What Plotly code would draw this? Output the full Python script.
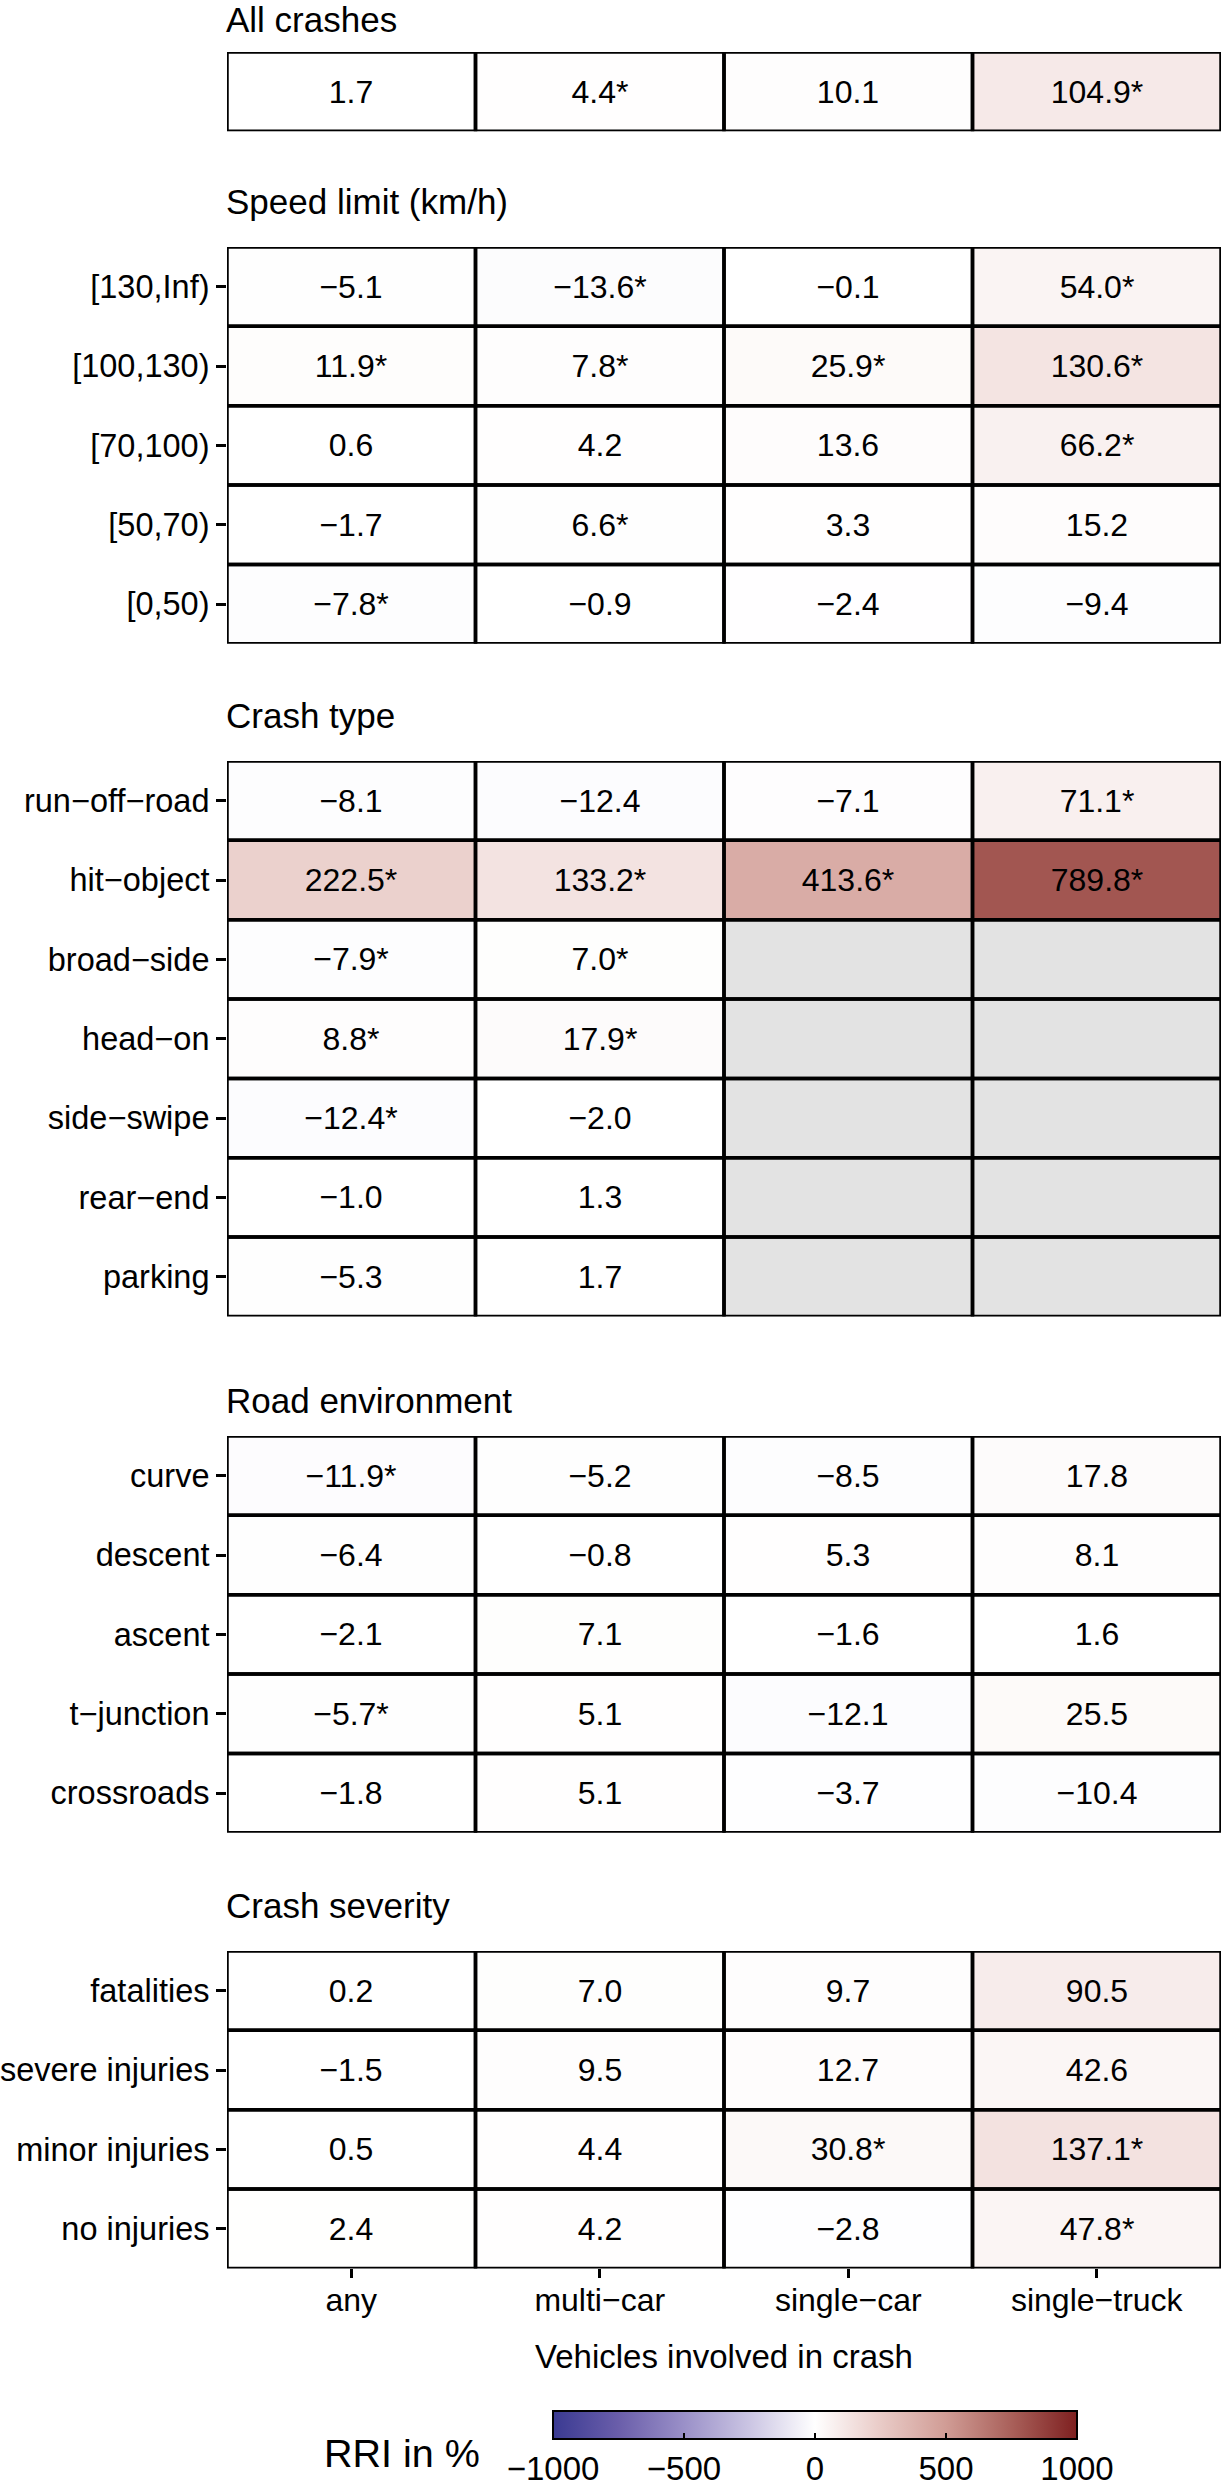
import plotly.graph_objects as go

W, H = 1232, 2484
FONT = "Liberation Sans, Arial, sans-serif"
M = "\u2212"

# columns (vehicles involved in crash)
vehicle_types = ["any", "multi" + M + "car", "single" + M + "car", "single" + M + "truck"]

# All crashes
all_rows = [""]
all_rri = [[1.7, 4.4, 10.1, 104.9]]
all_sig = [[0, 1, 0, 1]]

# Speed limit (km/h)
speed_rows = ["[130,Inf)", "[100,130)", "[70,100)", "[50,70)", "[0,50)"]
speed_rri = [[-5.1, -13.6, -0.1, 54.0],
             [11.9, 7.8, 25.9, 130.6],
             [0.6, 4.2, 13.6, 66.2],
             [-1.7, 6.6, 3.3, 15.2],
             [-7.8, -0.9, -2.4, -9.4]]
speed_sig = [[0, 1, 0, 1],
             [1, 1, 1, 1],
             [0, 0, 0, 1],
             [0, 1, 0, 0],
             [1, 0, 0, 0]]

# Crash type
type_rows = ["run" + M + "off" + M + "road", "hit" + M + "object", "broad" + M + "side",
             "head" + M + "on", "side" + M + "swipe", "rear" + M + "end", "parking"]
type_rri = [[-8.1, -12.4, -7.1, 71.1],
            [222.5, 133.2, 413.6, 789.8],
            [-7.9, 7.0, None, None],
            [8.8, 17.9, None, None],
            [-12.4, -2.0, None, None],
            [-1.0, 1.3, None, None],
            [-5.3, 1.7, None, None]]
type_sig = [[0, 0, 0, 1],
            [1, 1, 1, 1],
            [1, 1, 0, 0],
            [1, 1, 0, 0],
            [1, 0, 0, 0],
            [0, 0, 0, 0],
            [0, 0, 0, 0]]

# Road environment
road_rows = ["curve", "descent", "ascent", "t" + M + "junction", "crossroads"]
road_rri = [[-11.9, -5.2, -8.5, 17.8],
            [-6.4, -0.8, 5.3, 8.1],
            [-2.1, 7.1, -1.6, 1.6],
            [-5.7, 5.1, -12.1, 25.5],
            [-1.8, 5.1, -3.7, -10.4]]
road_sig = [[1, 0, 0, 0],
            [0, 0, 0, 0],
            [0, 0, 0, 0],
            [1, 0, 0, 0],
            [0, 0, 0, 0]]

# Crash severity
sev_rows = ["fatalities", "severe injuries", "minor injuries", "no injuries"]
sev_rri = [[0.2, 7.0, 9.7, 90.5],
           [-1.5, 9.5, 12.7, 42.6],
           [0.5, 4.4, 30.8, 137.1],
           [2.4, 4.2, -2.8, 47.8]]
sev_sig = [[0, 0, 0, 0],
           [0, 0, 0, 0],
           [0, 0, 1, 1],
           [0, 0, 0, 1]]

panel_titles = ["All crashes", "Speed limit (km/h)", "Crash type", "Road environment", "Crash severity"]
cbar_ticks = [-1000, -500, 0, 500, 1000]

colorscale = [[0.0, "#3a3a92"], [0.125, "#6a5eaa"], [0.25, "#9a90c8"], [0.375, "#cbc5e3"],
              [0.5, "#ffffff"], [0.625, "#e9cbc7"], [0.75, "#d09c95"], [0.875, "#a9605a"],
              [1.0, "#7e2020"]]

panels = [(all_rows, all_rri, all_sig), (speed_rows, speed_rri, speed_sig),
          (type_rows, type_rri, type_sig), (road_rows, road_rri, road_sig),
          (sev_rows, sev_rri, sev_sig)]

# layout in pixels
x_left, x_right = 227, 1221
panel_tops = [52, 247, 761, 1436, 1951]
row_h = 79.35
title_mid = [19, 201, 716, 1401, 1905]
cbar_top = 2411


def fmt(v, s):
    if v is None:
        return ""
    t = f"{v:.1f}".replace("-", M)
    return t + ("*" if s else "")


fig = go.Figure()
layout = {}
n_panels = len(panels)
for k, (rows, vals, sig) in enumerate(panels):
    i = k + 1
    sfx = "" if i == 1 else str(i)
    n = len(rows)
    top = panel_tops[k]
    bot = top + n * row_h
    text = [[fmt(v, s) for v, s in zip(rv, rs)] for rv, rs in zip(vals, sig)]
    last = (k == n_panels - 1)
    fig.add_trace(go.Heatmap(
        x=list(range(len(vehicle_types))), y=list(range(n)), z=vals, text=text,
        texttemplate="%{text}", textfont=dict(size=32, color="black", family=FONT),
        colorscale=colorscale, zmin=-1000, zmax=1000, xgap=0, ygap=0,
        showscale=last, hoverinfo="skip",
        xaxis="x" + sfx, yaxis="y" + sfx,
        colorbar=dict(orientation="h", x=815 / W, xanchor="center", y=1 - cbar_top / H, yanchor="top",
                      len=524 / W, lenmode="fraction", thickness=28, thicknessmode="pixels",
                      xpad=0, ypad=0, outlinewidth=2, outlinecolor="black",
                      tickvals=cbar_ticks, ticktext=[str(t).replace("-", M) for t in cbar_ticks],
                      ticks="inside", ticklen=7, tickwidth=2, tickcolor="black",
                      tickfont=dict(size=33, color="black", family=FONT)),
    ))
    layout["xaxis" + sfx] = dict(
        domain=[x_left / W, x_right / W], anchor="y" + sfx, range=[-0.5, 3.5],
        showgrid=False, zeroline=False, showline=False,
        tickvals=list(range(len(vehicle_types))), ticktext=vehicle_types,
        showticklabels=last, ticks="outside" if last else "", ticklen=9, tickwidth=3,
        ticklabelstandoff=-6,
        tickcolor="black", tickfont=dict(size=32, color="black", family=FONT), automargin=False,
    )
    layout["yaxis" + sfx] = dict(
        domain=[1 - bot / H, 1 - top / H], anchor="x" + sfx, range=[n - 0.5, -0.5],
        showgrid=False, zeroline=False, showline=False,
        tickvals=list(range(n)), ticktext=rows, showticklabels=(k > 0),
        ticks="outside" if k > 0 else "", ticklen=10, tickwidth=3, tickcolor="black",
        tickfont=dict(size=32.5, color="black", family=FONT), automargin=False,
    )
    # cell outlines
    for r in range(n):
        for c in range(len(vehicle_types)):
            fig.add_shape(type="rect", xref="x" + sfx, yref="y" + sfx,
                          x0=c - 0.5, x1=c + 0.5, y0=r - 0.5, y1=r + 0.5,
                          line=dict(color="black", width=3.5), layer="above")
    fig.add_annotation(text=panel_titles[k], xref="paper", yref="paper", x=(x_left - 3) / W,
                       y=1 - title_mid[k] / H, xanchor="left", yanchor="middle", showarrow=False,
                       font=dict(size=35, color="black", family=FONT))

fig.add_annotation(text="Vehicles involved in crash", xref="paper", yref="paper",
                   x=(x_left + x_right) / 2 / W, y=1 - 2356 / H, xanchor="center", yanchor="middle",
                   showarrow=False, font=dict(size=33, color="black", family=FONT))
fig.add_annotation(text="RRI in %", xref="paper", yref="paper", x=322 / W, y=1 - 2453 / H,
                   xanchor="left", yanchor="middle", showarrow=False,
                   font=dict(size=39.5, color="black", family=FONT))

fig.update_layout(**layout)
fig.update_layout(width=W, height=H, autosize=False,
                  margin=dict(l=0, r=0, t=0, b=0, pad=0, autoexpand=False),
                  paper_bgcolor="white", plot_bgcolor="#e3e3e3", showlegend=False,
                  font=dict(family=FONT, color="black"))
fig.write_html("out.html", config={"displayModeBar": False},
               post_script="document.body.style.margin='0';")
